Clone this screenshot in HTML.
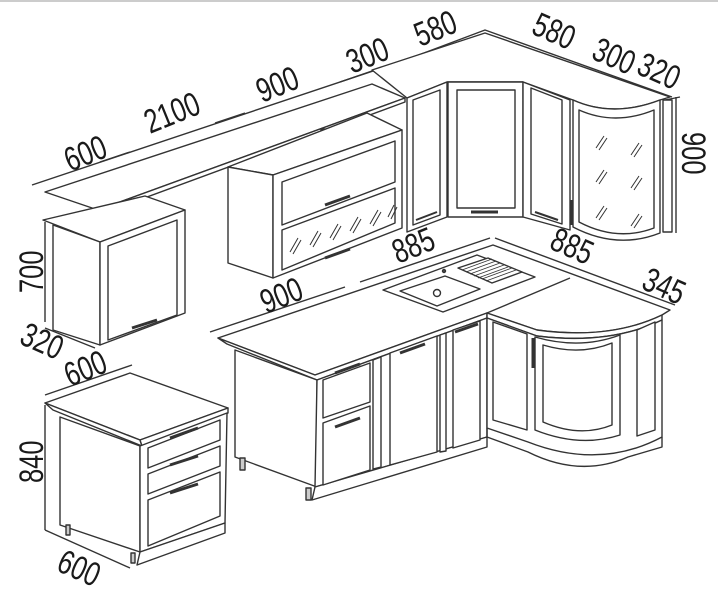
<!DOCTYPE html>
<html><head><meta charset="utf-8"><style>
html,body{margin:0;padding:0;background:#fff;}
svg{display:block}
text{font-family:"Liberation Sans Narrow","Liberation Sans",sans-serif;font-size:34px;fill:#1a1a1a;}
</style></head><body>
<svg width="718" height="598" viewBox="0 0 718 598" xmlns="http://www.w3.org/2000/svg">
<rect width="718" height="598" fill="#fff"/>
<line x1="0" y1="1" x2="718" y2="1" stroke="#ccc" stroke-width="2"/>
<g fill="#fff" stroke="#333" stroke-width="1.4" stroke-linejoin="round">
<polyline fill="none" points="32,185 400,62 485,30 672,97"/>
<line x1="100" y1="162" x2="130" y2="152"/>
<line x1="215" y1="123" x2="245" y2="113"/>
<line x1="340" y1="82" x2="372" y2="71"/>
<line x1="665" y1="100" x2="680" y2="97"/>
<line x1="676" y1="97" x2="676" y2="233"/>

<polygon points="45,192 372,84 405,98 98,210"/>
<polygon points="98,210 405,98 405,102 98,215"/>
<rect x="116" y="210" width="4" height="6" fill="#888"/>
<rect x="321" y="129" width="4" height="7" fill="#888"/>

<polygon points="43,220 145,196 185,210 100,242"/>
<polygon points="53,225 100,242 100,345 53,330"/>
<polygon points="100,242 185,210 185,313 100,345"/>
<polygon points="108,246 177,220 177,315 108,340"/>
<line x1="132" y1="328" x2="157" y2="320" stroke-width="3"/>
<line x1="45" y1="222" x2="45" y2="322"/>
<line x1="45" y1="328" x2="95" y2="348"/>

<polygon points="228,167 367,113 402,130 273,175"/>
<polygon points="228,167 273,175 273,278 228,263"/>
<polygon points="273,175 402,130 402,228 273,278"/>
<polygon points="282,182 395,141 395,182 282,225"/>
<polygon points="282,230 395,188 395,223 282,270"/>
<line x1="325" y1="205" x2="350" y2="196" stroke-width="3"/>
<line x1="325" y1="258" x2="350" y2="249" stroke-width="3"/>
<g stroke-width="1" fill="none">
<path d="M290,252 l8,-14 M293,254 l8,-14 M310,245 l8,-14 M313,247 l8,-14 M330,238 l8,-14 M333,240 l8,-14 M350,231 l8,-14 M353,233 l8,-14 M370,224 l8,-14 M373,226 l8,-14 M388,217 l6,-12 M391,219 l6,-12"/>
</g>

<path d="M372,70 L485,33 L670,97 L660,100 Q613,118 573,100 L523,82 L447,82 L407,98 Z"/>
<polygon points="407,98 447,82 447,217 407,232"/>
<polygon points="413,100 440,90 440,215 413,225"/>
<line x1="416" y1="220" x2="437" y2="212" stroke-width="2"/>
<rect x="448" y="82" width="75" height="135"/>
<rect x="457" y="90" width="58" height="118"/>
<line x1="471" y1="212" x2="498" y2="212" stroke-width="3"/>
<polygon points="523,82 570,100 570,230 523,217"/>
<polygon points="531,88 562,100 562,224 531,214"/>
<line x1="535" y1="212" x2="558" y2="220" stroke-width="2"/>
<path d="M573,100 Q613,118 660,100 L660,233 Q617,250 573,227 Z"/>
<path d="M579,110 Q615,126 654,110 L654,228 Q617,242 579,222 Z"/>
<line x1="572" y1="200" x2="572" y2="225" stroke-width="3"/>
<rect x="663" y="100" width="9" height="132"/>
<g stroke-width="1" fill="none">
<path d="M596,148 l8,-12 M599,150 l8,-12 M631,155 l8,-12 M634,157 l8,-12 M596,182 l8,-12 M599,184 l8,-12 M631,188 l8,-12 M634,190 l8,-12 M596,218 l8,-12 M599,220 l8,-12 M631,226 l8,-12 M634,228 l8,-12"/>
</g>

<polygon points="45,403 130,373 228,408 140,440"/>
<polygon points="45,403 140,440 142,446 53,410"/>
<polygon points="140,440 228,408 228,413 142,446"/>
<polygon points="60,417 140,446 140,552 60,525"/>
<polygon points="140,446 227,413 225,523 140,552"/>
<polygon points="140,552 225,523 225,533 137,565"/>
<polygon points="148,448 220,420 220,440 148,468"/>
<polygon points="148,474 220,446 220,466 148,494"/>
<polygon points="148,500 220,472 220,516 148,546"/>
<line x1="170" y1="438" x2="198" y2="428" stroke-width="3"/>
<line x1="170" y1="465" x2="198" y2="456" stroke-width="3"/>
<line x1="170" y1="493" x2="198" y2="484" stroke-width="3"/>
<rect x="66" y="525" width="4" height="10" fill="#ccc"/>
<rect x="131" y="553" width="4" height="10" fill="#ccc"/>
<line x1="45" y1="405" x2="45" y2="530"/>
<line x1="45" y1="530" x2="130" y2="568"/>
<line x1="45" y1="395" x2="132" y2="365"/>

<line x1="210" y1="332" x2="345" y2="287"/>
<line x1="360" y1="282" x2="490" y2="238"/>
<line x1="495" y1="238" x2="675" y2="305"/>
<path d="M218,338 L493,245 L670,310 L662,315 Q610,340 537,330 L487,313 L315,375 Z"/>
<path d="M218,338 L227,344 L317,380 L487,318 L487,313 L315,375 Z"/>
<path d="M487,318 L537,336 Q610,345 662,320 L662,315 Q610,340 537,330 L487,313 Z"/>
<line x1="570" y1="278" x2="487" y2="313"/>
<polygon points="383,290 477,255 535,277 443,312"/>
<polygon points="400,291 445,276 480,289 437,306"/>
<circle cx="437" cy="293" r="3.5"/>
<circle cx="444" cy="271" r="1.5" fill="#555"/>
<polygon points="458,268 488,258 522,272 492,283"/>
<g stroke-width="0.8">
<line x1="462" y1="270" x2="492" y2="259"/><line x1="466" y1="272" x2="496" y2="261"/><line x1="470" y1="274" x2="500" y2="263"/><line x1="474" y1="276" x2="504" y2="265"/><line x1="478" y1="278" x2="508" y2="267"/><line x1="482" y1="279" x2="512" y2="268"/><line x1="486" y1="281" x2="516" y2="270"/>
</g>
<polygon points="235,350 317,380 317,487 235,457"/>
<polygon points="317,380 487,318 487,437 315,487"/>
<polygon points="315,487 487,437 487,447 312,500"/>
<polygon points="323,380 370,363 370,402 323,418"/>
<polygon points="323,423 370,406 370,470 323,485"/>
<line x1="335" y1="373" x2="360" y2="364" stroke-width="3"/>
<line x1="335" y1="427" x2="360" y2="418" stroke-width="3"/>
<polygon points="373,360 381,357 381,467 373,469"/>
<polygon points="390,353 437,336 437,452 390,465"/>
<line x1="400" y1="353" x2="425" y2="344" stroke-width="3"/>
<polygon points="440,335 446,333 446,451 440,452"/>
<polygon points="453,330 480,321 480,440 453,448"/>
<line x1="455" y1="332" x2="478" y2="324" stroke-width="3"/>
<rect x="240" y="458" width="5" height="12" fill="#ccc"/>
<rect x="306" y="488" width="5" height="12" fill="#ccc"/>
<path d="M487,318 L537,336 Q610,345 662,320 L662,437 Q600,470 528,442 L487,428 Z"/>
<polygon points="493,322 527,334 527,430 493,420"/>
<path d="M535,337 Q580,350 620,335 L620,435 Q580,448 535,430 Z"/>
<path d="M543,345 Q580,356 612,343 L612,425 Q580,438 543,422 Z"/>
<polygon points="637,330 655,322 655,430 637,436"/>
<line x1="533" y1="338" x2="533" y2="368" stroke-width="3"/>
<path d="M487,428 L487,437 L528,452 Q580,478 628,457 L662,447 L662,437" fill="none"/>
</g>
<g>
<text transform="translate(70,172) rotate(-22) scale(0.75,1)">600</text>
<text transform="translate(150,134) rotate(-22) scale(0.75,1)">2100</text>
<text transform="translate(262,103) rotate(-22) scale(0.75,1)">900</text>
<text transform="translate(352,74) rotate(-22) scale(0.75,1)">300</text>
<text transform="translate(420,47) rotate(-22) scale(0.75,1)">580</text>
<text transform="translate(530,33) rotate(24) scale(0.75,1)">580</text>
<text transform="translate(590,58) rotate(24) scale(0.75,1)">300</text>
<text transform="translate(635,73) rotate(24) scale(0.75,1)">320</text>
<text transform="translate(682,132) rotate(90) scale(0.75,1)">900</text>
<text transform="translate(43,293) rotate(-90) scale(0.75,1)">700</text>
<text transform="translate(18,343) rotate(24) scale(0.75,1)">320</text>
<text transform="translate(70,387) rotate(-22) scale(0.75,1)">600</text>
<text transform="translate(43,483) rotate(-90) scale(0.75,1)">840</text>
<text transform="translate(55,570) rotate(24) scale(0.75,1)">600</text>
<text transform="translate(266,314) rotate(-22) scale(0.75,1)">900</text>
<text transform="translate(398,264) rotate(-22) scale(0.75,1)">885</text>
<text transform="translate(548,248) rotate(24) scale(0.75,1)">885</text>
<text transform="translate(640,288) rotate(24) scale(0.75,1)">345</text>
</g>
</svg>
</body></html>
